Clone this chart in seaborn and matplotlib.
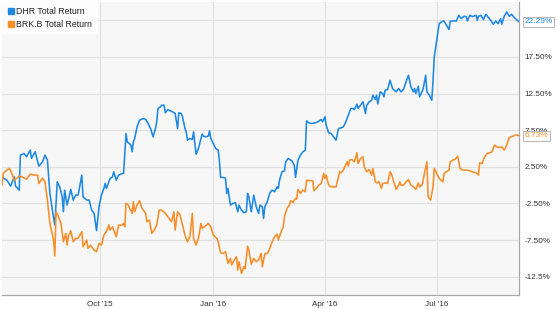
import pandas as pd
import numpy as np
import matplotlib
matplotlib.use("Agg")
import matplotlib.pyplot as plt
from matplotlib.lines import Line2D
import seaborn as sns

# ---------------- data ----------------
start_date = "2015-07-13"

dhr_days = [0, 1, 4, 7, 10, 11, 14, 15, 18, 20, 23, 24, 27, 30, 33, 35, 37, 39, 41, 43,
            45, 47, 49, 50, 51, 53, 54, 56, 58, 60, 62, 65, 66, 69, 71, 73, 75, 77, 79, 81,
            83, 84, 85, 88, 90, 91, 93, 95, 98, 99, 101, 102, 105, 106, 107, 108, 110, 112, 115, 117,
            119, 121, 123, 125, 126, 127, 129, 130, 132, 133, 135, 137, 139, 141, 143, 144, 146, 147, 149, 150,
            151, 153, 155, 156, 157, 158, 160, 161, 163, 164, 166, 168, 169, 170, 172, 174, 176, 177, 178, 180,
            182, 183, 184, 186, 188, 190, 192, 193, 195, 197, 199, 200, 201, 203, 205, 207, 209, 210, 212, 213,
            214, 216, 218, 220, 222, 224, 225, 226, 228, 230, 231, 233, 236, 238, 239, 241, 243, 245, 247, 248,
            250, 252, 255, 257, 260, 261, 263, 264, 266, 268, 270, 272, 274, 276, 278, 280, 282, 284, 286, 287,
            289, 290, 291, 294, 296, 297, 299, 301, 302, 304, 305, 306, 308, 310, 311, 312, 314, 316, 318, 321,
            323, 325, 327, 329, 331, 333, 335, 336, 337, 339, 340, 342, 343, 345, 346, 348, 350, 351, 352, 354,
            356, 359, 360, 362, 364, 365, 367, 370, 372, 374, 376, 378, 379, 381, 383, 386, 387, 388, 390, 392,
            394, 396, 398, 400, 402, 404, 406, 407, 409, 411, 413, 415, 417, 419, 421]
dhr_return = [1.14, 0.96, 0.68, -0.13, 1.14, -0.13, -0.68, 4.09, 4.32, 3.86, 4.78, 3.64, 4.55, 2.59, 3.18, 4.09, 3.41, -1.13, -3.41, -5.45,
              0.45, -0.23, -1.59, -3.64, -0.68, -2.72, -2.04, -0.58, -2.04, -1.36, -1.36, 1.37, -1.59, -2.04, -2.04, -3.41, -3.86, -6.23, -2.95, -1.36,
              -0.45, 0.23, -0.45, 0.91, 1.14, 1.82, 0.68, 1.37, 1.59, 1.59, 7.05, 5.91, 5.46, 4.55, 5.91, 6.37, 7.95, 8.87, 9.10, 8.96,
              8.41, 7.73, 6.59, 7.73, 8.64, 10.46, 10.68, 10.91, 10.91, 9.87, 10.32, 10.14, 10.00, 9.78, 7.73, 9.87, 9.78, 9.32, 7.73, 7.27,
              6.14, 6.37, 6.23, 7.27, 5.69, 4.23, 5.01, 5.69, 6.96, 6.70, 6.59, 6.70, 7.41, 6.37, 5.69, 5.01, 4.78, 3.41, 1.05, 1.05,
              0.96, -1.13, -0.45, -2.72, -2.50, -2.40, -3.64, -2.72, -3.41, -3.77, -3.64, -1.13, -1.59, -3.64, -1.36, -2.95, -3.86, -2.72, -2.95, -4.54,
              -2.95, -2.27, -1.13, -0.68, -0.90, -0.23, -0.45, 0.68, 1.82, 1.95, 3.18, 3.64, 3.33, 2.73, 1.05, 3.41, 4.09, 4.55, 4.78, 8.77,
              8.50, 8.41, 8.50, 8.64, 8.96, 8.64, 9.32, 8.18, 7.14, 7.05, 6.59, 6.14, 7.73, 7.82, 7.95, 8.64, 9.55, 10.46, 10.46, 10.30,
              11.05, 10.46, 10.70, 11.37, 9.78, 10.90, 11.37, 11.59, 12.28, 11.70, 12.28, 11.10, 12.73, 12.50, 12.05, 12.96, 13.05, 14.32, 13.19, 12.73,
              13.19, 12.73, 13.10, 14.10, 15.00, 13.41, 12.73, 13.19, 12.50, 13.50, 12.05, 12.73, 13.19, 15.00, 12.73, 12.28, 11.59, 14.32, 17.50, 19.78,
              22.05, 22.41, 22.37, 21.82, 21.23, 22.37, 22.41, 22.41, 23.19, 22.73, 23.05, 23.00, 22.41, 23.19, 23.00, 23.19, 22.50, 23.05, 23.19, 22.60,
              23.32, 22.90, 22.50, 21.96, 22.41, 22.05, 22.73, 21.96, 23.05, 23.64, 23.05, 23.32, 22.90, 22.60, 22.29]

brk_days = [0, 1, 4, 6, 8, 10, 12, 14, 16, 20, 23, 26, 29, 30, 33, 35, 37, 39, 42, 43,
            44, 46, 48, 50, 52, 53, 54, 56, 58, 60, 62, 65, 66, 69, 70, 72, 75, 77, 79, 81,
            83, 85, 87, 88, 90, 93, 95, 98, 99, 100, 101, 103, 104, 106, 107, 108, 110, 112, 114, 117,
            118, 120, 122, 124, 126, 128, 130, 133, 136, 138, 140, 141, 143, 145, 147, 149, 151, 153, 155, 156,
            158, 160, 162, 163, 165, 168, 170, 172, 175, 176, 178, 180, 182, 184, 186, 187, 189, 191, 192, 193,
            195, 197, 198, 200, 201, 203, 205, 207, 209, 211, 212, 214, 216, 217, 220, 222, 224, 225, 227, 229,
            230, 232, 234, 235, 237, 239, 240, 241, 243, 245, 247, 248, 251, 253, 254, 256, 258, 260, 262, 263,
            264, 266, 268, 270, 272, 275, 276, 278, 281, 282, 283, 285, 287, 289, 290, 292, 294, 295, 297, 299,
            301, 302, 304, 305, 307, 309, 310, 313, 314, 316, 317, 319, 321, 323, 324, 325, 327, 329, 331, 333,
            335, 337, 339, 340, 342, 343, 344, 346, 347, 349, 351, 352, 354, 356, 359, 360, 362, 364, 365, 367,
            369, 371, 373, 375, 378, 381, 383, 386, 388, 389, 391, 393, 395, 397, 399, 401, 403, 405, 407, 409,
            411, 413, 416, 418, 420, 421]
brk_return = [0.00, 1.60, 2.05, 2.28, 1.60, 0.68, 0.96, 1.23, 1.14, 0.82, 1.50, 1.37, 1.37, 0.23, 0.96, 0.45, -2.04, -5.22, -7.50, -9.68,
              -3.64, -4.32, -5.22, -7.73, -6.59, -8.18, -7.05, -6.23, -7.73, -7.27, -7.27, -6.36, -8.41, -7.50, -8.63, -8.18, -8.86, -9.09, -7.95, -8.18,
              -6.82, -6.36, -5.45, -6.13, -5.68, -7.05, -5.45, -5.45, -5.22, -5.68, -2.49, -2.72, -3.18, -3.86, -2.27, -3.64, -2.72, -2.13, -3.18, -3.86,
              -5.00, -4.77, -6.59, -6.13, -5.45, -3.41, -3.41, -3.86, -4.54, -5.00, -3.64, -6.13, -3.64, -4.09, -5.45, -6.82, -7.73, -7.05, -3.86, -7.27,
              -8.18, -7.27, -5.22, -5.90, -5.68, -5.22, -5.68, -6.82, -7.27, -7.73, -9.23, -9.32, -9.09, -10.68, -10.00, -10.91, -10.23, -9.77, -11.59, -10.45,
              -12.05, -11.14, -11.40, -8.32, -8.86, -10.80, -10.00, -10.45, -10.20, -9.32, -11.14, -9.40, -9.32, -9.10, -7.73, -7.05, -6.70, -7.50, -6.50, -5.68,
              -4.32, -3.18, -2.72, -2.13, -2.36, -1.81, -1.90, -0.58, -1.13, -0.68, -0.90, 0.68, 0.60, 0.60, -0.77, -0.45, 0.00, 0.23, 1.59, 0.91,
              1.37, 0.00, -0.23, -0.23, -0.23, 1.82, 1.70, 2.05, 3.18, 2.60, 3.41, 3.50, 3.18, 4.41, 2.95, 3.64, 3.86, 2.50, 1.82, 2.14,
              1.37, 2.27, 0.45, 0.30, 0.45, -0.45, 0.23, 0.30, 0.23, 1.82, 1.60, 0.45, -0.58, 0.00, 0.45, 0.00, 0.00, 0.45, 0.75, 0.00,
              -0.23, -0.58, 0.30, -0.23, 0.00, 0.68, 1.60, 3.18, -1.59, -2.04, -0.23, 2.28, 1.60, 0.91, 0.45, 1.60, 1.82, 2.05, 3.18, 3.41,
              3.50, 3.96, 2.28, 2.05, 2.05, 1.96, 1.82, 1.68, 1.37, 3.05, 2.95, 3.86, 4.32, 4.41, 4.55, 5.46, 5.23, 5.14, 5.23, 4.78,
              5.46, 6.50, 6.68, 6.82, 6.82, 6.73]

series_names = ["DHR Total Return", "BRK.B Total Return"]
series_colors = ["#1e88e5", "#f98d28"]

xtick_dates = ["2015-10-01", "2016-01-01", "2016-04-01", "2016-07-01"]
xtick_labels = ["Oct '15", "Jan '16", "Apr '16", "Jul '16"]
ytick_values = [22.5, 17.5, 12.5, 7.5, 2.5, -2.5, -7.5, -12.5]
ytick_labels = ["22.50%", "17.50%", "12.50%", "7.50%", "2.50%", "-2.50%", "-7.50%", "-12.5%"]
y_limits = (-15.0, 25.0)

# ---------------- build frame ----------------
t0 = pd.Timestamp(start_date)
df_dhr = pd.DataFrame({"date": t0 + pd.to_timedelta(dhr_days, unit="D"),
                       "ret": dhr_return, "series": series_names[0]})
df_brk = pd.DataFrame({"date": t0 + pd.to_timedelta(brk_days, unit="D"),
                       "ret": brk_return, "series": series_names[1]})
df = pd.concat([df_dhr, df_brk], ignore_index=True)

# ---------------- style ----------------
sns.set_style("whitegrid", {"axes.facecolor": "#f7f7f7", "grid.color": "#e1e1e1",
                            "axes.edgecolor": "#a8a8a8"})
plt.rcParams["font.family"] = ["Liberation Sans", "DejaVu Sans"]

fig = plt.figure(figsize=(5.58, 3.09), dpi=100)
ax = fig.add_axes([2 / 558, 1 - 295 / 309, 517 / 558, 293 / 309])

sns.lineplot(data=df, x="date", y="ret", hue="series", hue_order=series_names,
             palette=series_colors, linewidth=1.15, legend=False, ax=ax,
             estimator=None, sort=False)

ax.set_xlim(df["date"].min(), df["date"].max())
ax.set_ylim(*y_limits)

ax.set_xticks(pd.to_datetime(xtick_dates))
ax.set_xticklabels(xtick_labels)
ax.set_yticks(ytick_values)
ax.set_yticklabels(ytick_labels)
ax.yaxis.tick_right()
ax.tick_params(axis="both", length=0, labelsize=5.9, colors="#333333")
ax.tick_params(axis="y", pad=4)
ax.tick_params(axis="x", pad=4)
ax.grid(True, linewidth=0.9)
ax.set_xlabel("")
ax.set_ylabel("")

for side in ["left", "top"]:
    ax.spines[side].set_visible(False)
for side in ["right", "bottom"]:
    ax.spines[side].set_visible(True)
    ax.spines[side].set_linewidth(0.9)
    ax.spines[side].set_color("#a8a8a8")

# end value callouts
for vals, col in [(dhr_return, series_colors[0]), (brk_return, series_colors[1])]:
    v = vals[-1]
    ax.annotate(f"{v:.2f}%", xy=(1, v), xycoords=("axes fraction", "data"),
                xytext=(4, 0), textcoords="offset points", ha="left", va="center",
                fontsize=6.0, color=col, zorder=20, annotation_clip=False,
                bbox=dict(boxstyle="square,pad=0.18", fc="white", ec="#b5b5b5", lw=0.7))

handles = [Line2D([], [], marker="s", linestyle="", color=c, markersize=4.3) for c in series_colors]
leg = ax.legend(handles, series_names, loc="upper left", bbox_to_anchor=(0, 1),
                fontsize=6.3, frameon=True, facecolor="white", edgecolor="none",
                framealpha=0.85, handletextpad=0.25, handlelength=0.8,
                borderpad=0.6, labelspacing=0.45, borderaxespad=0.0)
leg.get_frame().set_boxstyle("square,pad=0")
for t in leg.get_texts():
    t.set_color("#222222")

fig.savefig("out.png", dpi=100, facecolor="white")
